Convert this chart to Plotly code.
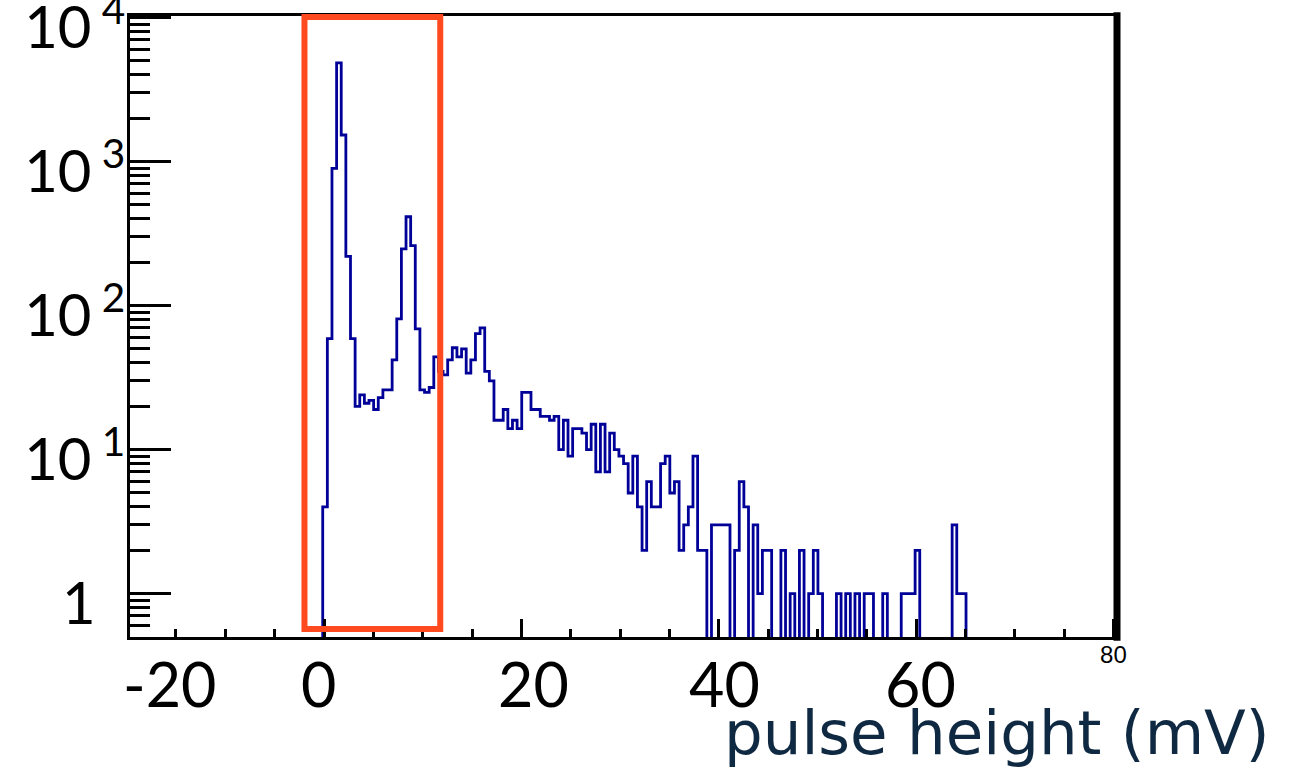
import plotly.graph_objects as go

# ---------------- data ----------------
bin_start = -0.13      # mV, lower edge of the first filled bin
bin_width = 0.469      # mV per bin
counts = [4, 59, 896, 4840, 1530, 220, 59, 20, 24, 21,
          22, 19, 23, 26, 26, 42, 81, 248, 414, 261,
          69, 26, 25, 27, 44, 35, 33, 42, 51, 44,
          50, 34, 42, 64, 70, 35, 30, 16, 16, 19,
          14, 16, 14, 25, 25, 19, 19, 17, 17, 16,
          17, 10, 16, 9, 14, 14, 13, 10, 15, 7,
          15, 7, 13, 10, 9, 8, 5, 9, 4, 2,
          6, 4, 4, 8, 9, 5, 6, 2, 3, 4,
          9, 2, 2, 0, 3, 3, 3, 3, 0, 2,
          6, 4, 0, 3, 1, 2, 2, 0, 0, 2,
          0, 1, 0, 2, 0, 1, 2, 1, 0, 0,
          0, 1, 0, 1, 0, 1, 0, 1, 1, 0,
          0, 1, 0, 0, 0, 1, 1, 1, 2, 0,
          0, 0, 0, 0, 0, 0, 3, 1, 1]

x_tick_values = [0, 20, 40, 60, 80]
x_small_labels = ["", "", "", "", "80"]      # original small labels (others hidden under the big ones)
x_big_labels = [-20, 0, 20, 40, 60]
y_tick_values = [1, 10, 100, 1000, 10000]
y_tick_labels = ["1\u00a0\u00a0", "10<sup>\u00a01</sup>", "10<sup>\u00a02</sup>",
                 "10<sup>\u00a03</sup>", "10<sup>\u00a04</sup>"]
x_title = "pulse height (mV)"
box_range = [-1.98, 11.78]   # highlighted region (mV)

X_RANGE = [-19.66, 80.36]
Y_RANGE = [-0.301, 4.011]    # log10

# ---------------- build step outline ----------------
FLOOR = 0.05  # empty bins drop below the visible log range
edges = [bin_start + i * bin_width for i in range(len(counts) + 1)]
xs = [edges[0]] + edges[:-1] + [edges[-1]]
ys = [FLOOR] + [c if c > 0 else FLOOR for c in counts] + [FLOOR]

fig = go.Figure()
fig.add_trace(go.Scatter(
    x=xs, y=ys, mode="lines", line=dict(shape="hv", color="#000099", width=2.8),
    hoverinfo="skip", showlegend=False))

BIG = "Lato, 'Noto Sans', sans-serif"
TITLE_FONT = "'DejaVu Sans', Verdana, sans-serif"

minor_y = [m * 10 ** d for d in range(-1, 4) for m in range(2, 10)]

fig.update_layout(
    width=1303, height=773,
    margin=dict(l=130, r=186, t=16, b=136, autoexpand=False),
    paper_bgcolor="white", plot_bgcolor="white",
    xaxis=dict(
        range=X_RANGE, showgrid=False, zeroline=False, automargin=False,
        showline=True, linecolor="black", linewidth=3, mirror=True,
        ticks="inside", ticklen=18, tickwidth=3, tickcolor="black",
        tickvals=x_tick_values, ticktext=x_small_labels,
        tickfont=dict(family="'Liberation Sans Narrow', 'Liberation Sans', Arial", size=24, color="black"),
        ticklabelstandoff=-6,
        minor=dict(dtick=5, tick0=0, ticks="inside", ticklen=8, tickwidth=3,
                   tickcolor="black", showgrid=False),
    ),
    yaxis=dict(
        type="log", range=Y_RANGE, showgrid=False, zeroline=False, automargin=False,
        showline=True, linecolor="black", linewidth=3, mirror=True,
        ticks="inside", ticklen=41, tickwidth=3, tickcolor="black",
        tickvals=y_tick_values, ticktext=y_tick_labels,
        tickfont=dict(family=BIG, size=58, color="black"),
        ticklabelshift=10, ticklabelstandoff=-10, ticklabeloverflow="allow",
        minor=dict(tickvals=minor_y, ticks="inside", ticklen=20, tickwidth=3,
                   tickcolor="black", showgrid=False),
    ),
)

# thick right frame line
fig.add_shape(type="line", xref="paper", yref="paper", x0=1, x1=1, y0=-0.006, y1=1.006,
              line=dict(color="black", width=7))

# highlighted region
fig.add_shape(type="rect", xref="x", yref="paper", x0=box_range[0], x1=box_range[1],
              y0=0.0129, y1=0.9984, line=dict(color="#FF4A1F", width=6),
              fillcolor="rgba(0,0,0,0)")

# large x tick labels (overlaid), placed through the x-axis scale
span = X_RANGE[1] - X_RANGE[0]
big_dx = [43, -6, 12, 6, 4]
for v, dx in zip(x_big_labels, big_dx):
    fig.add_annotation(x=(v - X_RANGE[0]) / span, y=0, xref="paper", yref="paper",
                       text=str(v), showarrow=False,
                       xanchor="center", yanchor="middle", xshift=dx, yshift=-46,
                       font=dict(family=BIG, size=61, color="black"))

# axis title
fig.add_annotation(x=1.157, y=0, xref="paper", yref="paper", text=x_title, showarrow=False,
                   xanchor="right", yanchor="top", yshift=-58,
                   font=dict(family=TITLE_FONT, size=61, color="#0f2942"))

fig.write_html("out.html")
